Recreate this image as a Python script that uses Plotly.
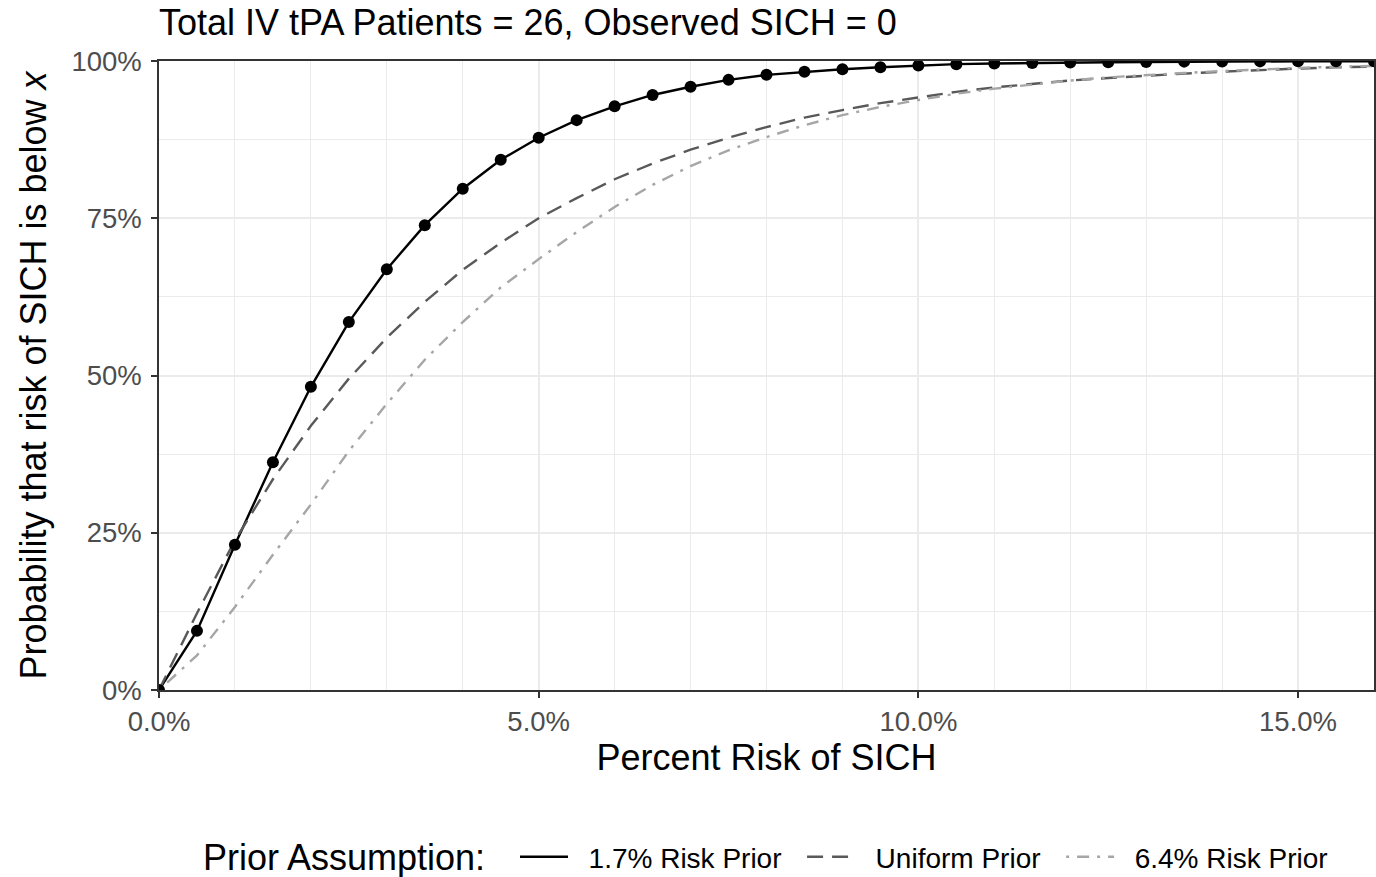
import plotly.graph_objects as go

# Percent risk of SICH (x) in steps of 0.5%
risk = [0.000, 0.005, 0.010, 0.015, 0.020, 0.025, 0.030, 0.035, 0.040, 0.045,
        0.050, 0.055, 0.060, 0.065, 0.070, 0.075, 0.080, 0.085, 0.090, 0.095,
        0.100, 0.105, 0.110, 0.115, 0.120, 0.125, 0.130, 0.135, 0.140, 0.145,
        0.150, 0.155, 0.160]

# Probability that risk of SICH is below x
prior_17 = [0.000, 0.094, 0.231, 0.362, 0.482, 0.585, 0.669, 0.739, 0.797, 0.843,
            0.878, 0.906, 0.928, 0.946, 0.959, 0.970, 0.978, 0.983, 0.987, 0.990,
            0.993, 0.995, 0.996, 0.997, 0.9975, 0.998, 0.9985, 0.999, 0.9992, 0.9994,
            0.9995, 0.9996, 0.9997]

prior_uniform = [0.000, 0.122, 0.238, 0.335, 0.420, 0.495, 0.560, 0.617, 0.668, 0.711,
                 0.750, 0.782, 0.812, 0.837, 0.859, 0.878, 0.895, 0.910, 0.922, 0.933,
                 0.942, 0.951, 0.958, 0.964, 0.969, 0.973, 0.977, 0.980, 0.983, 0.986,
                 0.988, 0.990, 0.991]

prior_64 = [0.000, 0.055, 0.132, 0.215, 0.295, 0.380, 0.455, 0.525, 0.585, 0.640,
            0.685, 0.728, 0.768, 0.803, 0.833, 0.858, 0.879, 0.898, 0.914, 0.927,
            0.938, 0.948, 0.956, 0.963, 0.969, 0.974, 0.978, 0.981, 0.984, 0.987,
            0.989, 0.991, 0.992]

series_names = ["1.7% Risk Prior", "Uniform Prior", "6.4% Risk Prior"]
legend_title = "Prior Assumption:"
x_tick_vals = [0.0, 0.05, 0.10, 0.15]
x_tick_text = ["0.0%", "5.0%", "10.0%", "15.0%"]
y_tick_vals = [0.0, 0.25, 0.50, 0.75, 1.0]
y_tick_text = ["0%", "25%", "50%", "75%", "100%"]

FONT = "Liberation Sans, Arial, Helvetica, sans-serif"
NB = "\u00a0"
W, H = 1376, 877
ML, MR, MT, MB = 159, 2, 61, 187
PW, PH = W - ML - MR, H - MT - MB


def legend_name(s):
    return NB * 2 + s + NB * 2


fig = go.Figure()

fig.add_trace(go.Scatter(
    x=risk, y=prior_17, mode="lines", name=legend_name(series_names[0]),
    line=dict(color="black", width=2.4),
))
fig.add_trace(go.Scatter(
    x=risk, y=prior_uniform, mode="lines", name=legend_name(series_names[1]),
    line=dict(color="#595959", width=2.4, dash="16px,9px"),
))
fig.add_trace(go.Scatter(
    x=risk, y=prior_64, mode="lines", name=legend_name(series_names[2]),
    line=dict(color="#a6a6a6", width=2.4, dash="3px,8px,12px,8px"),
))
fig.add_trace(go.Scatter(
    x=risk, y=prior_17, mode="markers", showlegend=False,
    marker=dict(color="black", size=12),
))

fig.update_layout(
    width=W, height=H,
    margin=dict(l=ML, r=MR, t=MT, b=MB, autoexpand=False),
    paper_bgcolor="white", plot_bgcolor="white",
    font=dict(family=FONT, color="black"),
    title=dict(
        text="Total IV tPA Patients = 26, Observed SICH = 0",
        x=0, xref="paper", xanchor="left",
        y=1 - 22 / H, yref="container", yanchor="middle",
        font=dict(size=36, color="black"),
    ),
    legend=dict(
        orientation="h",
        x=(515 - ML) / PW, xanchor="left", xref="paper",
        y=1 - 857 / H, yanchor="middle", yref="container",
        font=dict(size=28, color="black"),
        traceorder="normal",
        itemwidth=48,
    ),
    showlegend=True,
    annotations=[dict(
        text=legend_title, xref="paper", yref="paper",
        x=(487 - ML) / PW, xanchor="right",
        y=(H - MB - 857) / PH, yanchor="middle",
        showarrow=False, font=dict(size=36, color="black"),
    )],
)

fig.update_xaxes(
    range=[0, 0.16],
    tickvals=x_tick_vals, ticktext=x_tick_text,
    tickfont=dict(size=27.5, color="#4d4d4d"),
    ticks="outside", ticklen=6, tickwidth=1.5, tickcolor="#333333",
    showline=True, linecolor="#333333", linewidth=1.5, mirror=True,
    showgrid=True, gridcolor="#ebebeb", gridwidth=1.5,
    minor=dict(dtick=0.01, tick0=0, showgrid=True, gridcolor="#ebebeb", gridwidth=1),
    zeroline=False,
    title=dict(text="Percent Risk of SICH", font=dict(size=36, color="black"), standoff=9),
)
fig.update_yaxes(
    range=[0, 1],
    tickvals=y_tick_vals, ticktext=y_tick_text,
    tickfont=dict(size=27.5, color="#4d4d4d"),
    ticks="outside", ticklen=6, tickwidth=1.5, tickcolor="#333333",
    ticklabelstandoff=4,
    showline=True, linecolor="#333333", linewidth=1.5, mirror=True,
    showgrid=True, gridcolor="#ebebeb", gridwidth=1.5,
    minor=dict(dtick=0.125, tick0=0, showgrid=True, gridcolor="#ebebeb", gridwidth=1),
    zeroline=False,
    title=dict(text="Probability that risk of SICH is below <i>x</i>",
               font=dict(size=36, color="black"), standoff=14),
)

# Remove the browser's default 8px body margin so the figure fills the window exactly.
fig.write_html(
    "out.html",
    config={"displayModeBar": False},
    post_script="document.body.style.margin='0';document.body.style.overflow='hidden';",
)
